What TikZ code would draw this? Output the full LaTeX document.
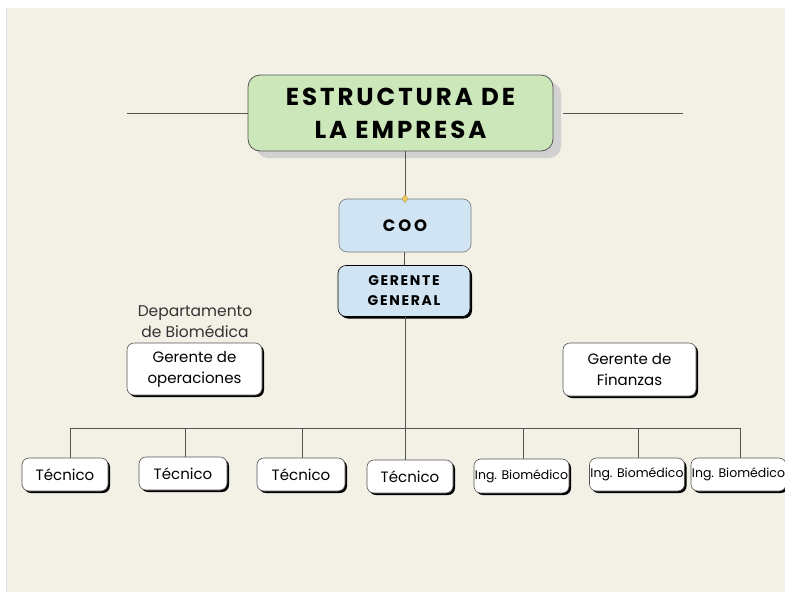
\documentclass[tikz,border=0pt]{standalone}
\usepackage{fontspec}
\setmainfont{Poppins}
\newfontfamily\headfont[LetterSpace=12]{Poppins}
\usetikzlibrary{shadows,shapes.geometric}
\definecolor{paper}{HTML}{F3F0E5}
\definecolor{titlegreen}{HTML}{CCE8BA}
\definecolor{boxblue}{HTML}{D1E4F3}
\definecolor{edge}{HTML}{555555}
\definecolor{marker}{HTML}{F2CC5B}
\begin{document}
\begin{tikzpicture}[x=1pt,y=-1pt,
    titlebox/.style={draw=edge, fill=titlegreen, rounded corners=12pt, line width=0.8pt,
        minimum width=305pt, minimum height=76pt, align=center,
        font=\headfont\bfseries\fontsize{24.5}{33}\selectfont,
        drop shadow={fill=black!18, opacity=1, shadow xshift=8pt, shadow yshift=-7pt}},
    bluebox/.style={draw=edge!80, fill=boxblue, rounded corners=8pt, line width=0.6pt,
        minimum width=132pt, minimum height=53pt, align=center,
        font=\headfont\bfseries\fontsize{14}{20}\selectfont},
    rolebox/.style={draw=edge, fill=white, rounded corners=7pt, line width=0.6pt,
        align=center, inner sep=1pt, font=\fontsize{15}{21}\selectfont,
        general shadow={fill=black, shadow xshift=2pt, shadow yshift=-2pt}},
    link/.style={draw=edge, line width=0.9pt}]
        %page
        \useasboundingbox (0,0) rectangle (785,592);
        \fill[paper] (7,8) rectangle (785,592);
        \draw[black!12, line width=1pt] (6.5,8) -- (6.5,592);

        %title
        \node[titlebox] (title) at (400.5,113) {ESTRUCTURA DE\\LA EMPRESA};
        \coordinate (wingL) at (127,113);
        \coordinate (wingR) at (683,113);
        \draw[link] (wingL) -- (title.west);
        \draw[link] (title.east) ++(10,0) coordinate (wingRs) -- (wingR);

        %top of the chart
        \node[bluebox] (coo) at (405,225.5) {\fontsize{16.5}{20}\selectfont C\,O\,O};
        \node[bluebox, draw=black, minimum height=51pt,
            general shadow={fill=black, shadow xshift=2pt, shadow yshift=-2pt}] (gg) at (404,291) {GERENTE\\GENERAL};
        \draw[link] (title.south -| coo.north) -- (coo.north);
        \node[diamond, fill=marker, draw=marker!70!black, line width=0.3pt,
            inner sep=0pt, minimum width=6pt, minimum height=8pt] (mark) at (coo.north) {};
        \draw[link] (coo) -- (gg);

        %side managers
        \node[text=black!80, align=center, font=\fontsize{15.5}{21}\selectfont] (dept) at (195,321.5) {Departamento\\de Biomédica};
        \node[rolebox, minimum width=135pt, minimum height=52pt] (ops) at (194.5,369) {Gerente de\\operaciones};
        \node[rolebox, minimum width=133pt, minimum height=53pt] (fin) at (629.5,369.5) {Gerente de\\Finanzas};

        %staff
        \node[rolebox, minimum width=86pt, minimum height=33pt] (t1) at (65,474.5) {Técnico};
        \node[rolebox, minimum width=88pt, minimum height=33pt] (t2) at (183,473.5) {Técnico};
        \node[rolebox, minimum width=88pt, minimum height=33pt] (t3) at (301,474.5) {Técnico};
        \node[rolebox, minimum width=86pt, minimum height=33pt] (t4) at (410,476.5) {Técnico};
        \node[rolebox, minimum width=87pt, minimum height=34pt, font=\fontsize{12.5}{14}\selectfont] (i1) at (521.5,476) {Ing. Biomédico};
        \node[rolebox, minimum width=88pt, minimum height=33pt, font=\fontsize{12.5}{14}\selectfont] (i2) at (637,474.5) {Ing. Biomédico};
        \node[rolebox, minimum width=87pt, minimum height=33pt, font=\fontsize{12.5}{14}\selectfont] (i3) at (738.5,474.5) {Ing. Biomédico};

        %bus
        \coordinate (d1) at (70,428);
        \coordinate (d2) at (185,428);
        \coordinate (d3) at (302,428);
        \coordinate (d4) at (405,428);
        \coordinate (d5) at (523,428);
        \coordinate (d6) at (638,428);
        \coordinate (d7) at (740,428);
        \draw[link] (gg.south -| d4) -- (d4);
        \draw[link] (d1) -- (d7);
        \foreach \i/\role in {1/t1,2/t2,3/t3,4/t4,5/i1,6/i2,7/i3}
            \draw[link] (d\i) -- (d\i |- \role.north);
    \end{tikzpicture}
\end{document}
